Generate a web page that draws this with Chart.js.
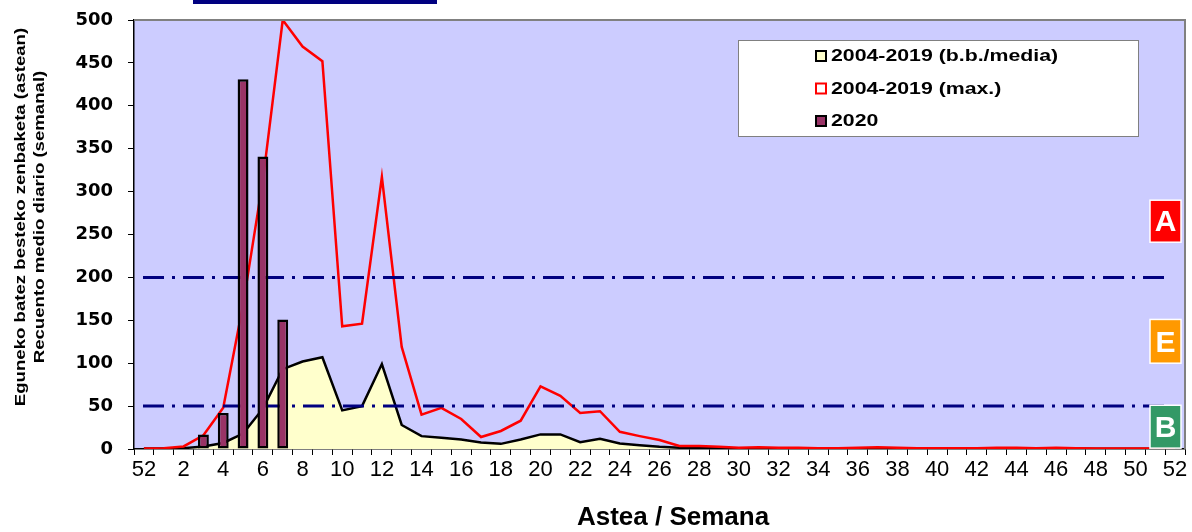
<!DOCTYPE html>
<html>
<head>
<meta charset="utf-8">
<script src="https://cdn.jsdelivr.net/npm/chart.js"></script>
<style>
  body { margin: 0; background: #fff; }
  #wrap { width: 1192px; height: 532px; }
</style>
</head>
<body>
<div id="wrap"><canvas id="chart" width="1192" height="532"></canvas></div>
<script>
// weeks: 52 of previous year, then 1..52
const weeks = ["52", "1", "2", "3", "4", "5", "6", "7", "8", "9", "10", "11", "12", "13", "14", "15", "16", "17", "18", "19", "20",
    "21", "22", "23", "24", "25", "26", "27", "28", "29", "30", "31", "32", "33", "34", "35", "36", "37", "38", "39", "40",
    "41", "42", "43", "44", "45", "46", "47", "48", "49", "50", "51", "52"];

// 2004-2019 mean
const meanValues = [0.5, 0.5, 1, 3, 7, 18, 47, 93, 102, 107, 45, 50, 99, 28, 15, 13, 11, 7.5, 6, 11, 17,
    17, 8, 12, 6.5, 4.5, 2.5, 1.5, 1.2, 1, 0.8, 0.8, 0.6, 0.6, 0.5, 0.5, 0.6, 0.7, 0.6, 0.5, 0.5,
    0.5, 0.5, 0.6, 0.6, 0.5, 0.5, 0.5, 0.4, 0.4, 0.4, 0.4, 0.4];

// 2004-2019 max
const maxValues = [0.5, 1, 3, 16, 48, 168, 313, 500, 469, 452, 143, 146, 317, 119, 40, 48, 35, 14, 21, 33, 73,
    62, 42, 44, 20, 15, 10.5, 3.5, 3.5, 2.5, 1.5, 2, 1.5, 1.5, 1, 1, 1.5, 2, 1.5, 1, 1,
    1, 1, 1.5, 1.5, 1, 1.5, 1, 0.5, 0.5, 0.5, 0.5, 0.5];

// 2020
const values2020 = [1, 1, 1.5, 17, 42, 431, 341, 151];

const alertLevels = [200, 50];
const zones = [
    { label: "A", color: "#FF0000", top: 290, bottom: 241 },
    { label: "E", color: "#FF9900", top: 151, bottom: 100 },
    { label: "B", color: "#339966", top: 51, bottom: 1 },
];

const legendItems = [
    { label: "2004-2019 (b.b./media)", fill: "#FFFFCC", stroke: "#000000" },
    { label: "2004-2019 (max.)", fill: "#FFFFFF", stroke: "#FF0000" },
    { label: "2020", fill: "#993366", stroke: "#000000" },
];

const FONT = "'Liberation Sans', Arial, sans-serif";

// text drawn wider than the font, like the original picture
function wideText(ctx, text, x, y, stretch) {
    ctx.save();
    ctx.translate(x, y);
    ctx.scale(stretch, 1);
    ctx.fillText(text, 0, 0);
    ctx.restore();
}

const decorations = {
    id: "decorations",
    beforeDraw(chart) {
        const { ctx, chartArea: a } = chart;
        ctx.save();
        ctx.fillStyle = "#CCCCFF";
        ctx.fillRect(a.left, a.top, a.right - a.left, a.bottom - a.top);
        ctx.restore();
    },
    beforeDatasetDraw(chart, args) {
        if (args.index !== 0) return;
        const { ctx, chartArea: a, scales } = chart;
        ctx.save();
        ctx.strokeStyle = "#000080";
        ctx.lineWidth = 3;
        ctx.setLineDash([21, 8, 3, 8]);
        alertLevels.forEach((v) => {
            const y = scales.y.getPixelForValue(v);
            ctx.beginPath();
            ctx.moveTo(a.left + 9, y);
            ctx.lineTo(a.right - 20, y);
            ctx.stroke();
        });
        ctx.restore();
    },
    afterDraw(chart) {
        const { ctx, chartArea: a, scales } = chart;
        ctx.save();

        // plot frame (top and right)
        ctx.strokeStyle = "#808080";
        ctx.lineWidth = 2;
        ctx.beginPath();
        ctx.moveTo(a.left, a.top);
        ctx.lineTo(a.right, a.top);
        ctx.lineTo(a.right, a.bottom);
        ctx.stroke();

        // title band peeking at the top
        ctx.fillStyle = "#000080";
        ctx.fillRect(193, 0, 244, 4);

        // legend
        ctx.fillStyle = "#FFFFFF";
        ctx.fillRect(738, 40, 400, 96);
        ctx.strokeStyle = "#808080";
        ctx.lineWidth = 1;
        ctx.strokeRect(738.5, 40.5, 400, 96);
        ctx.font = "bold 16px " + FONT;
        ctx.textBaseline = "middle";
        ctx.textAlign = "left";
        legendItems.forEach((item, i) => {
            const y = 56 + i * 32.5;
            ctx.fillStyle = item.fill;
            ctx.fillRect(816, y - 5, 10, 10);
            ctx.strokeStyle = item.stroke;
            ctx.lineWidth = 2;
            ctx.strokeRect(816, y - 5, 10, 10);
            ctx.fillStyle = "#000000";
            wideText(ctx, item.label, 831, y + 1, 1.33);
        });

        // zone boxes
        zones.forEach((z) => {
            const y1 = scales.y.getPixelForValue(z.top);
            const y2 = scales.y.getPixelForValue(z.bottom);
            const x1 = a.right - 35;
            ctx.fillStyle = z.color;
            ctx.fillRect(x1, y1, 31, y2 - y1);
            ctx.strokeStyle = "#FFFFFF";
            ctx.lineWidth = 1.5;
            ctx.strokeRect(x1, y1, 31, y2 - y1);
            ctx.fillStyle = "#FFFFFF";
            ctx.font = "bold 30px " + FONT;
            ctx.textAlign = "center";
            ctx.fillText(z.label, x1 + 15.5, (y1 + y2) / 2 + 2);
        });

        // axis titles
        ctx.fillStyle = "#000000";
        ctx.font = "bold 26px " + FONT;
        ctx.textAlign = "center";
        ctx.textBaseline = "alphabetic";
        ctx.fillText("Astea / Semana", 673, 525);

        ctx.font = "bold 15px " + FONT;
        ctx.textBaseline = "middle";
        ctx.save();
        ctx.translate(21, 217);
        ctx.rotate(-Math.PI / 2);
        wideText(ctx, "Eguneko batez besteko zenbaketa (astean)", 0, 0, 1.24);
        ctx.restore();
        ctx.save();
        ctx.translate(40, 217);
        ctx.rotate(-Math.PI / 2);
        wideText(ctx, "Recuento medio diario (semanal)", 0, 0, 1.24);
        ctx.restore();

        ctx.restore();
    },
};

const config = {
    type: "bar",
    data: {
        labels: weeks,
        datasets: [
            {
                label: "2020",
                data: values2020,
                backgroundColor: "#993366",
                borderColor: "#000000",
                borderWidth: 2.5,
                borderSkipped: false,
                barPercentage: 0.55,
                categoryPercentage: 1,
                order: 0,
            },
            {
                type: "line",
                label: "2004-2019 (max.)",
                data: maxValues,
                borderColor: "#FF0000",
                borderWidth: 2.5,
                pointRadius: 0,
                fill: false,
                tension: 0,
                order: 1,
            },
            {
                type: "line",
                label: "2004-2019 (b.b./media)",
                data: meanValues,
                borderColor: "#000000",
                backgroundColor: "#FFFFCC",
                borderWidth: 2.5,
                pointRadius: 0,
                fill: "origin",
                tension: 0,
                order: 2,
            },
        ],
    },
    options: {
        responsive: false,
        animation: false,
        layout: { padding: { top: 20, right: 7, left: 0, bottom: 0 } },
        plugins: {
            legend: { display: false },
            tooltip: { enabled: false },
        },
        scales: {
            x: {
                offset: true,
                afterFit: (scale) => { scale.height = 83; },
                grid: { offset: true, drawOnChartArea: false, tickLength: 6, color: "#000000", tickWidth: 1 },
                border: { color: "#000000", width: 1.5 },
                ticks: {
                    autoSkip: false,
                    maxRotation: 0,
                    padding: 2,
                    color: "#000000",
                    font: { family: "'Liberation Sans Narrow', 'Arial Narrow', " + FONT, size: 22 },
                    callback: function (value, index) {
                        return index % 2 === 0 ? this.getLabelForValue(value) : "";
                    },
                },
            },
            y: {
                min: 0,
                max: 500,
                afterFit: (scale) => {
                    scale.width = 134;
                    scale.paddingTop = 0;
                    scale.paddingBottom = 0;
                },
                grid: { drawOnChartArea: false, tickLength: 6, color: "#000000" },
                border: { color: "#000000", width: 1.5 },
                ticks: {
                    stepSize: 50,
                    padding: 15,
                    color: "#000000",
                    font: { family: "'DejaVu Sans', sans-serif", size: 18, weight: "bold" },
                },
            },
        },
        elements: { line: { borderJoinStyle: "miter" } },
    },
    plugins: [decorations],
};

const chart = new Chart(document.getElementById("chart"), config);
</script>
</body>
</html>
